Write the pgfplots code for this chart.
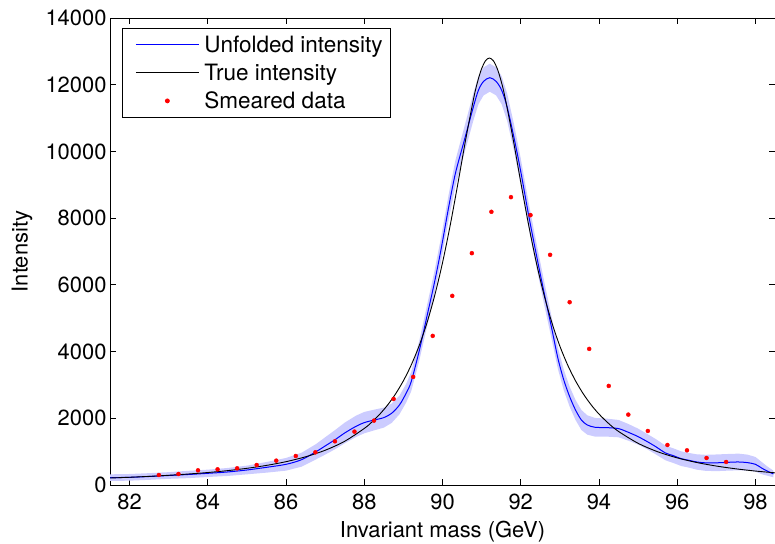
\documentclass[border=0pt]{standalone}
\usepackage{fontspec}
\setmainfont{TeX Gyre Heros}
\usepackage{pgfplots}
\pgfplotsset{compat=1.18}
\usepgfplotslibrary{fillbetween}
\usepackage{pgfplotstable}
\definecolor{mblue}{rgb}{0,0,1}
\definecolor{mband}{rgb}{0.8,0.8,1}
\definecolor{mred}{rgb}{1,0,0}

\pgfplotsset{
  linelegend/.style={legend image code/.code={\path (0bp,0bp); \path (70bp,0bp); \draw[##1] (7bp,0bp) -- (70bp,0bp);}},
  dotlegend/.style={legend image code/.code={\path (0bp,0bp); \path (70bp,0bp); \draw[mark repeat=2,mark phase=2,##1] plot coordinates {(7bp,0bp) (38.5bp,0bp) (70bp,0bp)};}},
}

\pgfplotstableread{
x y e
81.5 220 100
82.0 230 100
82.5 255 100
83.0 285 100
83.5 315 110
84.0 350 110
84.5 390 120
85.0 450 130
85.5 530 160
86.0 620 190
86.4 760 210
86.77 1000 230
87.0 1170 260
87.28 1380 290
87.5 1560 310
87.79 1760 320
88.0 1870 320
88.26 1950 310
88.5 2020 300
88.7 2150 290
88.9 2400 280
89.07 2750 280
89.2 3100 290
89.41 4047 300
89.6 5045 320
89.79 6046 340
89.96 7044 360
90.16 8344 380
90.33 9343 390
90.56 10342 400
90.79 11340 410
90.92 11840 420
91.05 12100 420
91.21 12210 420
91.37 12100 420
91.51 11840 420
91.65 11340 410
91.83 10400 400
92.0 9400 390
92.2 8100 380
92.4 6900 360
92.6 5750 350
92.8 4650 330
92.95 3800 320
93.1 3150 310
93.25 2650 300
93.4 2250 300
93.55 1950 300
93.7 1800 290
93.9 1730 280
94.2 1720 270
94.5 1690 260
94.75 1580 250
95.0 1450 240
95.25 1290 230
95.45 1150 230
95.7 960 220
95.9 880 220
96.1 790 220
96.3 740 220
96.5 690 230
96.72 665 240
97.0 665 250
97.3 680 250
97.57 690 250
97.8 670 240
98.0 620 220
98.17 500 180
98.3 420 140
98.46 330 100
}\unfolded

\pgfplotstableread{
x y
81.5 209
82.0 232
82.5 259
83.0 291
83.5 329
84.0 374
84.5 430
85.0 500
85.5 587
86.0 699
86.5 846
87.0 1041
87.5 1311
88.0 1695
88.2 1893
88.4 2127
88.6 2403
88.8 2731
89.0 3124
89.2 3596
89.4 4164
89.6 4851
89.8 5678
90.0 6661
90.2 7805
90.4 9081
90.6 10403
90.8 11611
90.9 12103
91.0 12481
91.1 12719
91.2 12800
91.3 12719
91.4 12481
91.5 12103
91.6 11611
91.8 10403
92.0 9081
92.2 7805
92.4 6661
92.6 5678
92.8 4851
93.0 4164
93.2 3596
93.4 3124
93.6 2731
93.8 2403
94.0 2127
94.25 1841
94.5 1606
95.0 1250
95.5 997
96.0 813
96.5 674
97.0 568
97.5 485
98.0 418
98.5 365
}\trueint

\pgfplotstableread{
x y
82.75 300
83.25 330
83.75 440
84.25 470
84.75 500
85.25 600
85.75 730
86.25 870
86.75 980
87.25 1310
87.75 1600
88.25 1930
88.75 2580
89.25 3240
89.75 4470
90.25 5670
90.75 6950
91.25 8190
91.75 8630
92.25 8090
92.75 6900
93.25 5480
93.75 4080
94.25 2970
94.75 2110
95.25 1620
95.75 1200
96.25 1040
96.75 810
97.25 690
}\smeared

\begin{document}
\begin{tikzpicture}[font=\fontsize{22}{26}\selectfont]
\begin{axis}[
  name=ax,
  scale only axis,
  width=665bp, height=467bp,
  xmin=81.5, xmax=98.5,
  ymin=0, ymax=14000,
  xtick={82,84,...,98},
  ytick={0,2000,...,14000},
  scaled y ticks=false,
  /pgf/number format/.cd, assume math mode=true, 1000 sep={},
  /pgfplots/.cd,
  tick align=inside,
  major tick length=6.5bp,
  axis line style={line width=0.8bp},
  every tick/.style={black, line width=0.8bp},
  xticklabel style={yshift=-5bp},
  xlabel={Invariant mass (GeV)},
  ylabel={Intensity},
  every axis x label/.style={at={(axis description cs:0.5,0)}, anchor=center, yshift=-47bp},
  every axis y label/.style={at={(axis description cs:-0.1323,0.5)}, anchor=center, rotate=90},
  legend cell align=left,
  linelegend,
  legend style={at={(axis description cs:0.018,0.9786)}, anchor=north west,
    font=\fontsize{22.6}{27}\selectfont,
    draw=black, line width=0.8bp, row sep=6bp, inner xsep=6bp, inner ysep=5.5bp,
    /tikz/every odd column/.append style={column sep=3bp}},
]
\addplot[name path=up, draw=none, forget plot] table[x=x, y expr=\thisrow{y}+\thisrow{e}] {\unfolded};
\addplot[name path=lo, draw=none, forget plot] table[x=x, y expr=\thisrow{y}-\thisrow{e}] {\unfolded};
\addplot[fill=mband, draw=none, forget plot] fill between[of=up and lo];
\addplot[color=mblue, draw=mblue, line width=1bp, smooth, tension=0.5] table[x=x, y=y] {\unfolded};
\addlegendentry{Unfolded intensity}
\addplot[color=black, draw=black, line width=0.9bp, smooth, tension=0.5] table[x=x, y=y] {\trueint};
\addlegendentry{True intensity}
\addplot[only marks, mark=*, mark size=2bp, color=mred, mark options={draw=mred, fill=mred}, dotlegend]
  table[x=x, y=y] {\smeared};
\addlegendentry{Smeared data}
\end{axis}
\pgfresetboundingbox
\path ([xshift=-110bp,yshift=-59bp]ax.south west) rectangle ([yshift=18bp]ax.north east);
\end{tikzpicture}
\end{document}
